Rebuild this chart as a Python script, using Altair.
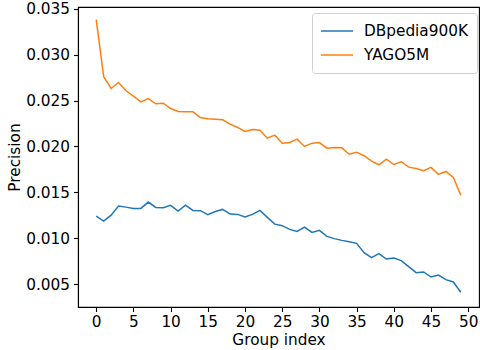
import altair as alt
import pandas as pd

group_index = list(range(50))
dbpedia = [0.01242, 0.01188, 0.01253, 0.01351, 0.01340, 0.01326, 0.01326, 0.01395, 0.01337, 0.01334,
           0.01359, 0.01297, 0.01362, 0.01304, 0.01301, 0.01258, 0.01292, 0.01315, 0.01264, 0.01261,
           0.01232, 0.01261, 0.01304, 0.01228, 0.01155, 0.01138, 0.01098, 0.01076, 0.01123, 0.01065,
           0.01087, 0.01022, 0.00997, 0.00978, 0.00964, 0.00946, 0.00845, 0.00790, 0.00834, 0.00775,
           0.00786, 0.00758, 0.00692, 0.00627, 0.00634, 0.00579, 0.00601, 0.00551, 0.00525, 0.00413]
yago = [0.03380, 0.02760, 0.02631, 0.02696, 0.02606, 0.02547, 0.02486, 0.02522, 0.02464, 0.02471,
        0.02413, 0.02381, 0.02377, 0.02377, 0.02315, 0.02301, 0.02297, 0.02290, 0.02243, 0.02207,
        0.02163, 0.02185, 0.02177, 0.02090, 0.02123, 0.02036, 0.02043, 0.02080, 0.02000, 0.02036,
        0.02043, 0.01982, 0.01989, 0.01986, 0.01916, 0.01938, 0.01899, 0.01840, 0.01801, 0.01862,
        0.01804, 0.01834, 0.01775, 0.01761, 0.01736, 0.01772, 0.01696, 0.01728, 0.01663, 0.01471]
series_names = ["DBpedia900K", "YAGO5M"]
series_colors = ["#1f77b4", "#ff7f0e"]
x_ticks = [0, 5, 10, 15, 20, 25, 30, 35, 40, 45, 50]
y_ticks = [0.005, 0.010, 0.015, 0.020, 0.025, 0.030, 0.035]

df = pd.DataFrame({
    "Group index": group_index * 2,
    "Precision": dbpedia + yago,
    "Series": [series_names[0]] * 50 + [series_names[1]] * 50,
})

font = "DejaVu Sans"
fs = 15.3

chart = alt.Chart(df).mark_line(strokeWidth=1.5, clip=True).encode(
    x=alt.X("Group index:Q",
            scale=alt.Scale(domain=[-2.45, 51.45], nice=False, zero=False),
            axis=alt.Axis(values=x_ticks, format="d", grid=False, title="Group index",
                          titlePadding=3, labelPadding=3, tickSize=4.5)),
    y=alt.Y("Precision:Q",
            scale=alt.Scale(domain=[0.00253, 0.03518], nice=False, zero=False),
            axis=alt.Axis(values=y_ticks, format=".3f", grid=False, title="Precision",
                          titlePadding=3, labelPadding=4, tickSize=4.5)),
    color=alt.Color("Series:N",
                    scale=alt.Scale(domain=series_names, range=series_colors),
                    legend=alt.Legend(title=None, orient="none", legendX=234, legendY=6,
                                      symbolType="M-2,0H2", symbolSize=256, symbolOffset=7,
                                      symbolStrokeWidth=1.5, labelFontSize=fs, labelFont=font,
                                      labelOffset=18, rowPadding=6, padding=9,
                                      strokeColor="#d0d0d0", fillColor="white",
                                      cornerRadius=3, labelColor="black")),
).properties(
    width=401, height=300,
    padding={"left": 78, "top": 7, "right": 1, "bottom": 43},
    autosize=alt.AutoSizeParams(type="none"),
).configure_view(
    stroke="black", strokeWidth=1.1
).configure_axis(
    domainColor="black", domainWidth=1.1, tickColor="black", tickWidth=1.1,
    labelFont=font, labelFontSize=fs, labelColor="black",
    titleFont=font, titleFontSize=fs, titleFontWeight="normal", titleColor="black",
)

chart.save("out.html", embed_options={"renderer": "svg", "actions": False})
